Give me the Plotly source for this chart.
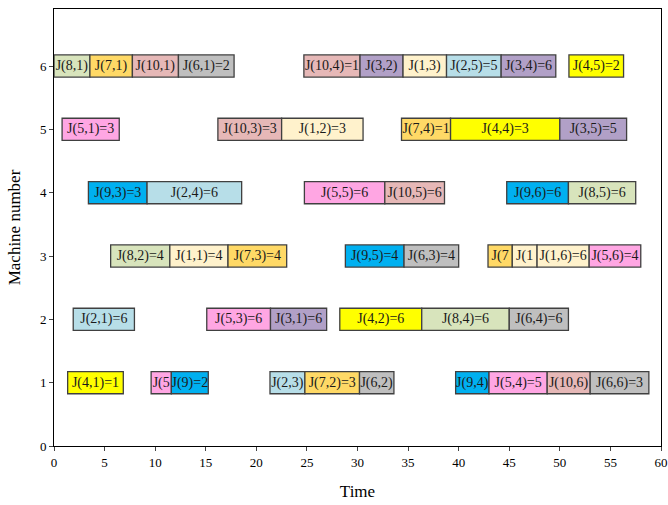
import plotly.graph_objects as go

# ---- data ----
machines = [6]*10 + [5]*6 + [4]*6 + [3]*9 + [2]*6 + [1]*10
labels = [
    "J(8,1)", "J(7,1)", "J(10,1)", "J(6,1)=2", "J(10,4)=1", "J(3,2)", "J(1,3)", "J(2,5)=5", "J(3,4)=6", "J(4,5)=2",
    "J(5,1)=3", "J(10,3)=3", "J(1,2)=3", "J(7,4)=1", "J(4,4)=3", "J(3,5)=5",
    "J(9,3)=3", "J(2,4)=6", "J(5,5)=6", "J(10,5)=6", "J(9,6)=6", "J(8,5)=6",
    "J(8,2)=4", "J(1,1)=4", "J(7,3)=4", "J(9,5)=4", "J(6,3)=4", "J(7", "J(1", "J(1,6)=6", "J(5,6)=4",
    "J(2,1)=6", "J(5,3)=6", "J(3,1)=6", "J(4,2)=6", "J(8,4)=6", "J(6,4)=6",
    "J(4,1)=1", "J(5", "J(9)=2", "J(2,3)", "J(7,2)=3", "J(6,2)", "J(9,4)", "J(5,4)=5", "J(10,6)", "J(6,6)=3",
]
jobs = [
    8, 7, 10, 6, 10, 3, 1, 2, 3, 4,
    5, 10, 1, 7, 4, 3,
    9, 2, 5, 10, 9, 8,
    8, 1, 7, 9, 6, 7, 1, 1, 5,
    2, 5, 3, 4, 8, 6,
    4, 5, 9, 2, 7, 6, 9, 5, 10, 6,
]
starts = [
    0.0, 3.55, 7.75, 12.3, 24.7, 30.25, 34.5, 38.8, 44.2, 50.9,
    0.8, 16.2, 22.5, 34.35, 39.2, 50.0,
    3.4, 9.2, 24.75, 32.7, 44.75, 50.85,
    5.6, 11.45, 17.2, 28.8, 34.6, 42.9, 45.3, 47.75, 52.9,
    1.9, 15.1, 21.4, 28.25, 36.35, 45.0,
    1.35, 9.6, 11.6, 21.35, 24.8, 30.2, 39.7, 43.0, 48.75, 53.0,
]
ends = [
    3.55, 7.75, 12.3, 17.8, 30.25, 34.5, 38.8, 44.2, 49.6, 56.3,
    6.45, 22.5, 30.55, 39.2, 50.0, 56.6,
    9.2, 18.55, 32.7, 38.6, 50.85, 57.5,
    11.45, 17.2, 23.0, 34.6, 40.0, 45.3, 47.75, 52.9, 58.0,
    7.95, 21.4, 26.95, 36.35, 45.0, 50.85,
    6.85, 11.6, 15.25, 24.8, 30.2, 33.6, 43.0, 48.75, 53.0, 58.8,
]
job_colors = {
    1: "#FFF2CC", 2: "#B7DEE8", 3: "#B1A0C7", 4: "#FFFF00", 5: "#FFA6E3",
    6: "#BFBFBF", 7: "#FFD966", 8: "#D8E4BC", 9: "#00B0F0", 10: "#E6B8B7",
}
x_ticks = list(range(0, 61, 5))
y_ticks = list(range(0, 7))

durations = [e - s for s, e in zip(starts, ends)]
colors = [job_colors[j] for j in jobs]

font_family = "Liberation Serif, Times New Roman, serif"

fig = go.Figure()
fig.add_trace(go.Bar(
    orientation="h",
    y=machines,
    x=durations,
    base=starts,
    width=0.35,
    marker=dict(color=colors, line=dict(color="#404040", width=1.3)),
    text=labels,
    textposition="inside",
    insidetextanchor="middle",
    textangle=0,
    textfont=dict(family=font_family, size=14, color="#1a1a1a"),
    constraintext="none",
    cliponaxis=False,
    hoverinfo="skip",
    showlegend=False,
))

fig.update_layout(
    width=668, height=505,
    margin=dict(l=54, r=7, t=9, b=59, autoexpand=False),
    plot_bgcolor="white", paper_bgcolor="white",
    font=dict(family=font_family, size=13, color="black"),
    uniformtext=dict(minsize=14, mode="show"),
    barmode="overlay",
    xaxis=dict(
        range=[0, 60], tickvals=x_ticks, ticks="outside", ticklen=4,
        showgrid=False, zeroline=False, showline=True, linecolor="black",
        linewidth=1, mirror=True, automargin=False,
        ticklabeloverflow="allow",
        title=dict(text="Time", font=dict(size=17), standoff=16),
        tickfont=dict(size=13),
    ),
    yaxis=dict(
        range=[0, 6.9], tickvals=y_ticks, ticks="outside", ticklen=4,
        showgrid=False, zeroline=False, showline=True, linecolor="black",
        linewidth=1, mirror=True, automargin=False,
        title=dict(text="Machine number", font=dict(size=17), standoff=14),
        tickfont=dict(size=13),
    ),
    yaxis2=dict(
        overlaying="y", side="right", range=[0, 6.9], tickvals=y_ticks,
        ticks="inside", ticklen=5, showticklabels=False, showgrid=False,
        zeroline=False, showline=False, automargin=False,
    ),
)

fig.write_html(
    "out.html",
    config={"displayModeBar": False},
    post_script="document.body.style.margin='0';document.body.style.overflow='hidden';",
)
